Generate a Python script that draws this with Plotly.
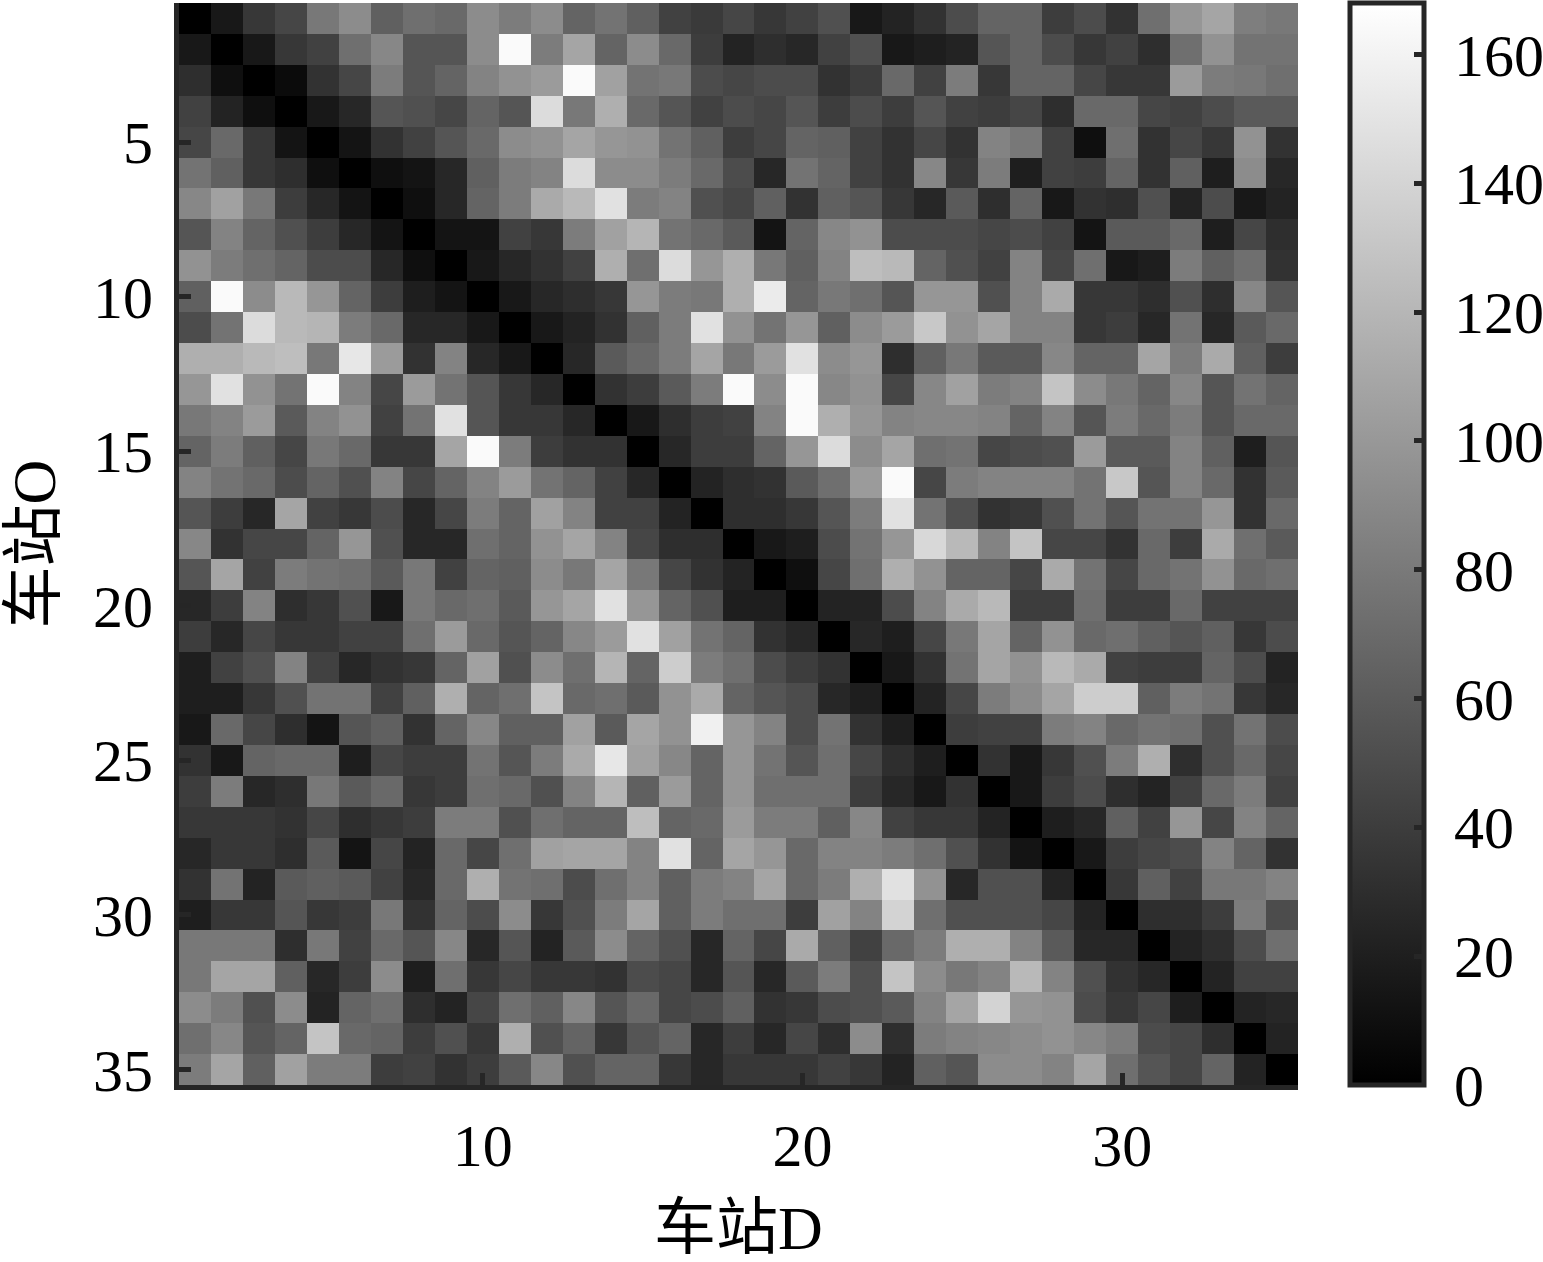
import plotly.graph_objects as go

stations = list(range(1, 36))
x_ticks = [10, 20, 30]
y_ticks = [5, 10, 15, 20, 25, 30, 35]
cbar_ticks = [0, 20, 40, 60, 80, 100, 120, 140, 160]

r01 = [0,16,36,46,79,92,63,73,69,92,82,92,66,76,63,43,38,46,36,43,53,16,23,33,50,66,66,40,50,33,73,99,109,83,79]
r02 = [16,0,16,36,43,73,89,56,56,92,165,82,109,66,92,69,40,23,30,26,43,53,16,20,23,56,66,50,36,43,30,73,96,76,76]
r03 = [30,10,0,7,33,46,82,56,66,86,96,102,165,106,76,79,50,46,50,50,33,40,69,43,82,36,66,66,46,36,36,102,82,79,73]
r04 = [43,23,10,0,16,26,56,53,46,66,56,145,79,115,69,56,43,50,46,56,40,50,40,56,43,40,46,30,69,69,46,43,50,59,59]
r05 = [46,69,36,13,0,13,33,43,56,69,92,96,109,99,96,76,63,40,46,66,63,43,33,46,33,86,79,43,10,73,33,46,36,96,33]
r06 = [76,63,36,30,10,0,10,13,26,63,82,86,145,92,92,82,69,50,26,76,66,43,33,89,36,82,20,43,40,66,33,63,20,92,26]
r07 = [89,106,79,40,26,13,0,10,26,66,82,112,122,148,82,86,53,46,63,33,63,56,36,26,59,30,66,16,33,30,53,23,50,16,23]
r08 = [56,86,66,53,40,26,13,0,13,13,43,36,82,106,119,76,69,59,13,66,89,96,50,50,50,46,50,43,13,59,59,69,20,46,30]
r09 = [96,82,73,66,50,50,26,10,0,16,26,33,43,115,73,145,99,115,79,63,86,125,122,66,53,43,86,46,73,16,20,82,63,73,33]
r10 = [63,165,92,122,99,66,40,20,13,0,16,26,30,36,99,82,79,115,155,66,79,73,56,99,99,53,86,112,36,36,30,53,30,89,56]
r11 = [50,76,145,122,119,82,69,26,26,16,0,16,23,33,63,82,148,96,76,99,63,92,102,132,96,109,86,86,36,40,26,76,26,59,69]
r12 = [115,115,122,125,79,152,102,33,86,26,16,0,26,59,69,82,109,79,102,148,92,99,30,63,79,59,59,89,66,66,109,82,112,63,40]
r13 = [99,148,96,76,165,86,46,102,76,56,36,26,0,33,40,59,82,165,92,165,89,96,46,89,106,82,86,129,92,79,66,89,56,76,66]
r14 = [79,86,102,59,86,96,43,76,148,56,36,36,26,0,16,30,40,43,86,165,115,99,86,89,89,86,66,86,56,82,69,82,56,69,69]
r15 = [66,82,63,46,79,69,36,36,109,165,82,40,33,33,0,26,40,40,66,99,145,92,109,73,76,46,50,53,102,59,59,86,63,20,56]
r16 = [86,76,69,50,66,53,86,46,66,86,102,76,66,43,26,0,23,30,33,59,73,102,165,46,82,86,86,86,76,132,56,86,69,33,59]
r17 = [56,40,26,109,43,36,50,26,46,82,66,106,86,43,43,23,0,30,30,36,56,82,148,76,53,33,36,53,76,56,76,76,99,33,69]
r18 = [89,33,46,46,66,99,53,26,26,73,66,96,109,86,46,30,30,0,16,20,50,76,99,142,122,86,129,46,46,33,69,40,112,73,59]
r19 = [56,109,43,82,76,73,59,79,43,66,63,92,79,109,79,46,33,23,0,10,46,73,115,96,66,66,46,112,76,46,69,76,96,69,73]
r20 = [26,40,86,30,36,53,16,79,69,73,59,99,109,148,99,66,53,20,20,0,23,23,50,86,112,122,40,40,73,40,40,69,43,43,43]
r21 = [40,26,46,36,36,43,43,73,102,69,56,66,89,102,148,106,76,66,33,26,0,26,20,46,79,109,66,96,69,73,63,56,63,36,50]
r22 = [20,43,53,86,43,26,33,36,66,106,53,92,73,119,66,135,82,73,50,40,33,0,16,33,76,109,96,122,112,43,40,40,66,50,23]
r23 = [20,20,36,53,76,76,43,63,115,66,73,129,69,73,59,96,112,66,56,50,26,20,0,23,46,82,92,109,135,135,63,82,76,36,26]
r24 = [16,69,46,30,13,56,63,33,66,89,63,63,106,59,109,96,158,99,86,50,76,33,20,0,40,43,43,82,86,69,76,73,53,76,50]
r25 = [33,16,66,69,69,20,46,40,40,76,56,82,112,152,106,89,66,99,76,56,73,46,30,20,0,33,16,36,53,82,115,30,53,69,46]
r26 = [40,82,26,30,79,59,69,36,40,73,69,53,86,119,63,102,66,99,73,73,73,40,26,16,33,0,16,40,50,30,23,43,69,82,43]
r27 = [36,36,36,33,46,30,36,40,82,82,53,73,66,66,125,66,69,102,82,82,63,89,43,36,36,23,0,20,26,63,43,99,46,86,66]
r28 = [26,36,36,30,59,13,46,23,69,46,73,106,109,109,86,148,66,109,99,69,86,86,82,73,53,33,13,0,16,40,46,50,86,66,33]
r29 = [33,76,23,59,63,59,43,26,69,115,76,73,50,73,86,63,82,86,109,69,82,115,148,96,26,53,53,23,0,36,63,43,79,79,86]
r30 = [20,36,36,56,36,40,79,33,66,50,92,36,53,82,109,63,82,73,73,40,106,86,139,73,53,53,53,46,23,0,30,30,40,82,50]
r31 = [79,79,79,30,79,43,69,56,89,26,56,23,59,92,66,53,26,66,46,112,63,43,69,82,115,115,86,59,26,26,0,23,30,50,73]
r32 = [79,109,109,63,26,40,92,20,73,36,46,36,36,33,50,46,26,56,26,59,82,53,129,92,79,86,122,86,53,33,26,0,23,43,43]
r33 = [92,82,53,92,23,66,73,30,23,46,73,63,89,56,69,46,50,63,33,36,50,53,59,86,109,139,99,96,50,36,46,20,0,23,26]
r34 = [73,89,56,66,129,69,66,40,53,36,115,53,66,36,56,66,26,40,26,46,30,92,30,82,86,89,92,96,89,82,50,46,30,0,23]
r35 = [82,109,63,106,82,82,40,43,33,40,59,89,53,66,66,36,26,36,36,36,43,36,23,63,56,92,92,86,109,73,56,46,66,23,0]

matrix = [r01, r02, r03, r04, r05, r06, r07, r08, r09, r10, r11, r12, r13, r14, r15, r16, r17, r18,
          r19, r20, r21, r22, r23, r24, r25, r26, r27, r28, r29, r30, r31, r32, r33, r34, r35]

W, H = 1543, 1262
L, R, T, B = 179, 1298, 3, 1085
INK = "#262626"
FONT = "Liberation Serif, Noto Sans CJK SC, serif"
black60 = dict(family=FONT, size=60, color="#000000")
title62 = dict(family=FONT, size=62, color="#000000")

fig = go.Figure(go.Heatmap(
    x=stations, y=stations, z=matrix,
    zmin=0, zmax=168,
    colorscale=[[0, "#000000"], [1, "#ffffff"]],
    colorbar=dict(
        x=(1350 - L) / (R - L), xanchor="left",
        y=0, yanchor="bottom",
        lenmode="fraction", len=1,
        thicknessmode="pixels", thickness=74,
        outlinewidth=5, outlinecolor=INK, borderwidth=0,
        ticks="inside", ticklen=12, tickwidth=5, tickcolor=INK,
        tickvals=cbar_ticks, ticktext=["\u00a0" + str(v) for v in cbar_ticks],
        tickfont=black60,
        xpad=0, ypad=0,
    ),
))

fig.update_layout(
    width=W, height=H, autosize=False,
    margin=dict(l=L, r=W - R, t=T, b=H - B, pad=0, autoexpand=False),
    paper_bgcolor="white", plot_bgcolor="white",
    font=black60,
    xaxis=dict(
        range=[0.5, 35.5], automargin=False,
        tickmode="array", tickvals=x_ticks, ticktext=[str(v) for v in x_ticks],
        ticks="inside", ticklen=12, tickwidth=5, tickcolor=INK,
        showline=True, linewidth=5, linecolor=INK, showgrid=False, zeroline=False,
        ticklabelstandoff=4,
        tickfont=black60,
        title=dict(text="车站D", font=title62, standoff=30),
    ),
    yaxis=dict(
        range=[35.5, 0.5], automargin=False,
        tickmode="array", tickvals=y_ticks, ticktext=[str(v) for v in y_ticks],
        ticks="inside", ticklen=12, tickwidth=5, tickcolor=INK,
        showline=True, linewidth=5, linecolor=INK, showgrid=False, zeroline=False,
        ticklabelstandoff=9,
        tickfont=black60,
        title=dict(text="车站O", font=title62, standoff=20),
    ),
)

fig.write_html("out.html", config={"displayModeBar": False},
               post_script="document.body.style.margin='0';")
